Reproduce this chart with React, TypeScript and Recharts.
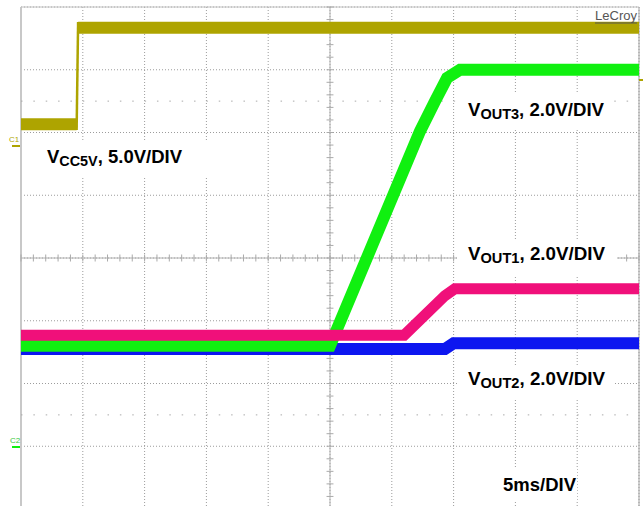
import React from "react";
import { LineChart, Line, XAxis, YAxis, CartesianGrid, ReferenceLine } from "recharts";

// 5 ms per division, 10 divisions across; 8 vertical divisions
const timeTicks = [0, 5, 10, 15, 20, 25, 30, 35, 40, 45, 50];
const divTicks = [-4, -3, -2, -1, 0, 1, 2, 3, 4];

// traces, y in divisions from the centre line
const vcc5vLow = [
  { t: 0, v: 2.13 },
  { t: 4.5, v: 2.13 },
];
const vcc5vRise = [
  { t: 4.5, v: 2.04 },
  { t: 4.62, v: 3.76 },
];
const vcc5vHigh = [
  { t: 4.62, v: 3.67 },
  { t: 50, v: 3.67 },
];
const vout3 = [
  { t: 0, v: -1.4 },
  { t: 25, v: -1.4 },
  { t: 32.28, v: 2.02 },
  { t: 33.5, v: 2.5 },
  { t: 34.47, v: 2.87 },
  { t: 35.52, v: 3.0 },
  { t: 50, v: 3.0 },
];
const vout1 = [
  { t: 0, v: -1.23 },
  { t: 31.0, v: -1.23 },
  { t: 34.3, v: -0.6 },
  { t: 35.1, v: -0.49 },
  { t: 50, v: -0.49 },
];
const vout2 = [
  { t: 0, v: -1.45 },
  { t: 34.3, v: -1.45 },
  { t: 35.0, v: -1.36 },
  { t: 50, v: -1.36 },
];

const minorT = Array.from({ length: 51 }, (_, i) => i);
const minorV = Array.from({ length: 41 }, (_, i) => -4 + i * 0.2);

const FONT = "'Liberation Sans', Arial, sans-serif";
const OLIVE = "#aea400";

const Label = ({ x, y, main, sub, rest, len, box }) => (
  <g>
    <rect x={box[0]} y={box[1]} width={box[2]} height={box[3]} fill="#fff" />
    <text x={x} y={y} fontFamily={FONT} fontWeight="bold" fontSize={18} fill="#000" textLength={len} lengthAdjust="spacingAndGlyphs">
      {main}
      {sub && (
        <tspan fontSize={14} dy={3}>
          {sub}
        </tspan>
      )}
      {sub ? <tspan dy={-3}>{rest}</tspan> : rest}
    </text>
  </g>
);

const App = () => {
  return (
    <div style={{ position: "relative", width: 643, height: 506, overflow: "hidden", background: "#fff" }}>
      <style>{`body{margin:0}`}</style>
      <LineChart width={643} height={510} margin={{ top: 7, right: 4, left: 21, bottom: 1 }}>
        <CartesianGrid
          stroke="#9c9c9c"
          strokeDasharray="1 2"
          verticalValues={timeTicks}
          horizontalValues={divTicks}
        />
        <XAxis type="number" dataKey="t" domain={[0, 50]} ticks={timeTicks} hide allowDataOverflow />
        <YAxis type="number" dataKey="v" domain={[-4, 4]} ticks={divTicks} hide allowDataOverflow />
        <ReferenceLine x={0} stroke="#c8c8c8" strokeWidth={2} />
        <ReferenceLine x={50} stroke="#a0a0a0" />
        <ReferenceLine y={4} stroke="#c0c0c0" />
        <ReferenceLine x={25} stroke="#b0b0b0" />
        <ReferenceLine y={0} stroke="#b0b0b0" />
        <ReferenceLine y={2.5} stroke="#aaa" strokeDasharray="1.5 10.86" />
        <ReferenceLine y={-2.5} stroke="#aaa" strokeDasharray="1.5 10.86" />
        {minorT.map((t) => (
          <ReferenceLine key={"mt" + t} segment={[{ x: t, y: -0.056 }, { x: t, y: 0.056 }]} stroke="#aaa" />
        ))}
        {minorV.map((v, i) => (
          <ReferenceLine key={"mv" + i} segment={[{ x: 24.72, y: v }, { x: 25.28, y: v }]} stroke="#aaa" />
        ))}
        <Line data={vout2} dataKey="v" type="linear" stroke="#0d16f0" strokeWidth={12} dot={false} isAnimationActive={false} />
        <Line data={vout3} dataKey="v" type="linear" stroke="#10f010" strokeWidth={12} dot={false} isAnimationActive={false} />
        <Line data={vout1} dataKey="v" type="linear" stroke="#f0107a" strokeWidth={11} dot={false} isAnimationActive={false} />
        <Line data={vcc5vLow} dataKey="v" type="linear" stroke={OLIVE} strokeWidth={12} dot={false} isAnimationActive={false} />
        <Line data={vcc5vRise} dataKey="v" type="linear" stroke={OLIVE} strokeWidth={2.5} dot={false} isAnimationActive={false} />
        <Line data={vcc5vHigh} dataKey="v" type="linear" stroke={OLIVE} strokeWidth={12} dot={false} isAnimationActive={false} />
      </LineChart>
      <svg width={643} height={506} style={{ position: "absolute", left: 0, top: 0, pointerEvents: "none" }}>
        <Label x={47} y={163} main="V" sub="CC5V" rest=", 5.0V/DIV" len={135} box={[38, 141, 176, 36]} />
        <Label x={468} y={116} main="V" sub="OUT3" rest=", 2.0V/DIV" len={136} box={[458, 94, 156, 34]} />
        <Label x={468} y={260} main="V" sub="OUT1" rest=", 2.0V/DIV" len={137} box={[457, 240, 160, 37]} />
        <Label x={468} y={385} main="V" sub="OUT2" rest=", 2.0V/DIV" len={137} box={[457, 366, 158, 34]} />
        <Label x={503} y={491} main="5ms/DIV" len={73} box={[497, 467, 80, 33]} />
        <text x={595} y={20} fontFamily={FONT} fontSize={13} fill="#555" textLength={42} lengthAdjust="spacingAndGlyphs">
          LeCroy
        </text>
        <line x1={595} x2={637} y1={23} y2={23} stroke="#555" strokeWidth={1} />
        <text x={9} y={142} fontFamily={FONT} fontSize={8} fill={OLIVE}>
          C1
        </text>
        <line x1={12} x2={20} y1={146} y2={146} stroke={OLIVE} strokeWidth={2} />
        <text x={10} y={443} fontFamily={FONT} fontSize={8} fill="#3ac83a">
          C2
        </text>
        <line x1={12} x2={20} y1={447} y2={447} stroke="#10f010" strokeWidth={2} />
        <line x1={639} x2={643} y1={80} y2={80} stroke={OLIVE} strokeWidth={2} />
      </svg>
    </div>
  );
};

export default App;
